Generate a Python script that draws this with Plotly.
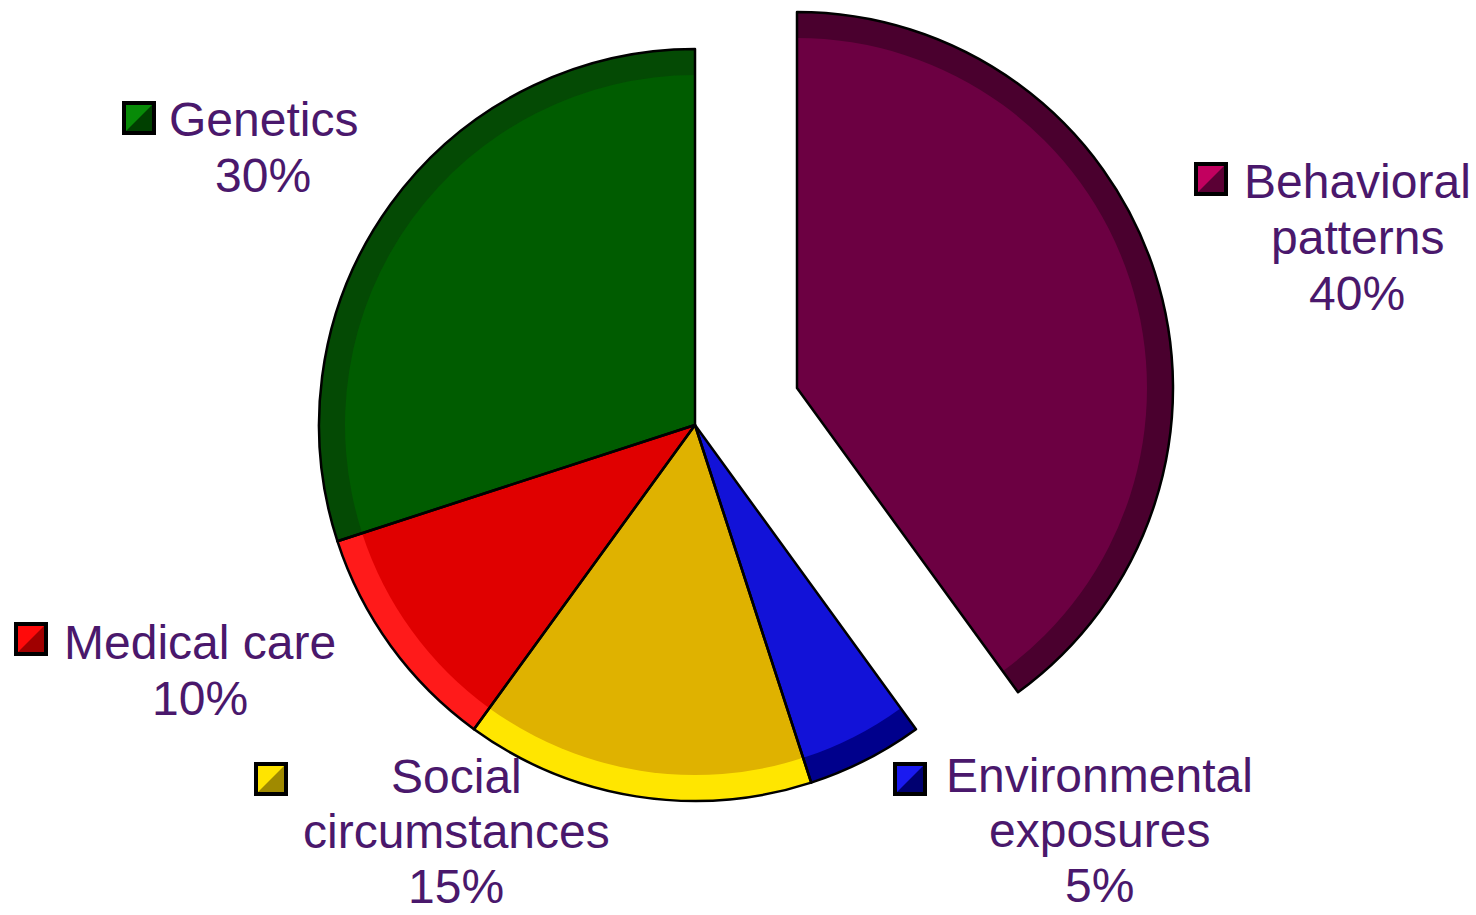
import plotly.graph_objects as go

# ---------------- data ----------------
categories = ["Behavioral patterns", "Environmental exposures", "Social circumstances",
              "Medical care", "Genetics"]
label_lines = [["Behavioral", "patterns"], ["Environmental", "exposures"],
               ["Social", "circumstances"], ["Medical care"], ["Genetics"]]
values = [40, 5, 15, 10, 30]
pulled = [True, False, False, False, False]

# ---------------- styles ----------------
main_colors = ["#6C0042", "#1212D8", "#DFB200", "#E00000", "#005C00"]
rim_colors = ["#4A002E", "#00008C", "#FFE600", "#FF1A1A", "#044A04"]
sq_light = ["#C2005F", "#1A1AF0", "#FFE400", "#FF0A0A", "#078A07"]
sq_dark = ["#5A0034", "#000070", "#A08A00", "#A00000", "#004000"]
TEXT_COLOR = "#4A186C"
FONT = "Liberation Sans, Arial, sans-serif"

W, H = 1476, 915
R_OUT = 376
R_IN = 350
CENTER_MAIN = (695, 425)
CENTER_PULLED = (797, 388)

# label layout (pixel positions: text centre x, first baseline y, line step, square box)
label_layout = [
    dict(cx=1357, base=197, step=56, sq=(1196, 164)),
    dict(cx=1099, base=791, step=55, sq=(895, 764)),
    dict(cx=456, base=792, step=55, sq=(256, 764)),
    dict(cx=200, base=658, step=56, sq=(16, 624)),
    dict(cx=263, base=135, step=56, sq=(124, 103)),
]
FONT_SIZE = 48
SQ = 30

TRANSP = "rgba(0,0,0,0)"


def dom(cx, cy, r):
    return dict(x=[(cx - r) / W, (cx + r) / W], y=[1 - (cy + r) / H, 1 - (cy - r) / H])


fig = go.Figure()

for center, want in [(CENTER_MAIN, False), (CENTER_PULLED, True)]:
    show = [p == want for p in pulled]
    rim = [c if s else TRANSP for c, s in zip(rim_colors, show)]
    main = [c if s else TRANSP for c, s in zip(main_colors, show)]
    outline = ["#000000" if s else TRANSP for s in show]
    common = dict(values=values, labels=categories, sort=False, direction="clockwise",
                  rotation=0, textinfo="none", showlegend=False, hoverinfo="label+value")
    fig.add_trace(go.Pie(domain=dom(*center, R_OUT),
                         marker=dict(colors=rim, line=dict(width=0)), **common))
    fig.add_trace(go.Pie(domain=dom(*center, R_IN),
                         marker=dict(colors=main, line=dict(width=0)), **common))
    fig.add_trace(go.Pie(domain=dom(*center, R_OUT),
                         marker=dict(colors=[TRANSP] * len(values),
                                     line=dict(width=2.5, color=outline)), **common))

annotations = []
shapes = []
px = lambda x: x / W
py = lambda y: 1 - y / H
for i, (lines, v) in enumerate(zip(label_lines, values)):
    lay = label_layout[i]
    all_lines = lines + [f"{v}%"]
    for k, t in enumerate(all_lines):
        baseline = lay["base"] + k * lay["step"]
        cy = baseline - 0.188 * FONT_SIZE - 6
        annotations.append(dict(
            text=t, x=px(lay["cx"]), y=py(cy), xref="paper", yref="paper",
            xanchor="center", yanchor="middle", showarrow=False, borderpad=0,
            font=dict(family=FONT, size=FONT_SIZE, color=TEXT_COLOR)))
    x0, y0 = lay["sq"]
    x1, y1 = x0 + SQ, y0 + SQ
    shapes.append(dict(type="rect", xref="paper", yref="paper",
                       x0=px(x0), x1=px(x1), y0=py(y1), y1=py(y0),
                       fillcolor=sq_light[i], line=dict(width=0)))
    shapes.append(dict(type="path", xref="paper", yref="paper",
                       path=f"M {px(x1)} {py(y0)} L {px(x1)} {py(y1)} L {px(x0)} {py(y1)} Z",
                       fillcolor=sq_dark[i], line=dict(width=0)))
    shapes.append(dict(type="rect", xref="paper", yref="paper",
                       x0=px(x0), x1=px(x1), y0=py(y1), y1=py(y0),
                       fillcolor=TRANSP, line=dict(width=4, color="#000000")))

fig.update_layout(
    width=W, height=H,
    margin=dict(l=0, r=0, t=0, b=0),
    paper_bgcolor="white", plot_bgcolor="white",
    annotations=annotations, shapes=shapes,
    font=dict(family=FONT),
)

fig.write_html("out.html")
